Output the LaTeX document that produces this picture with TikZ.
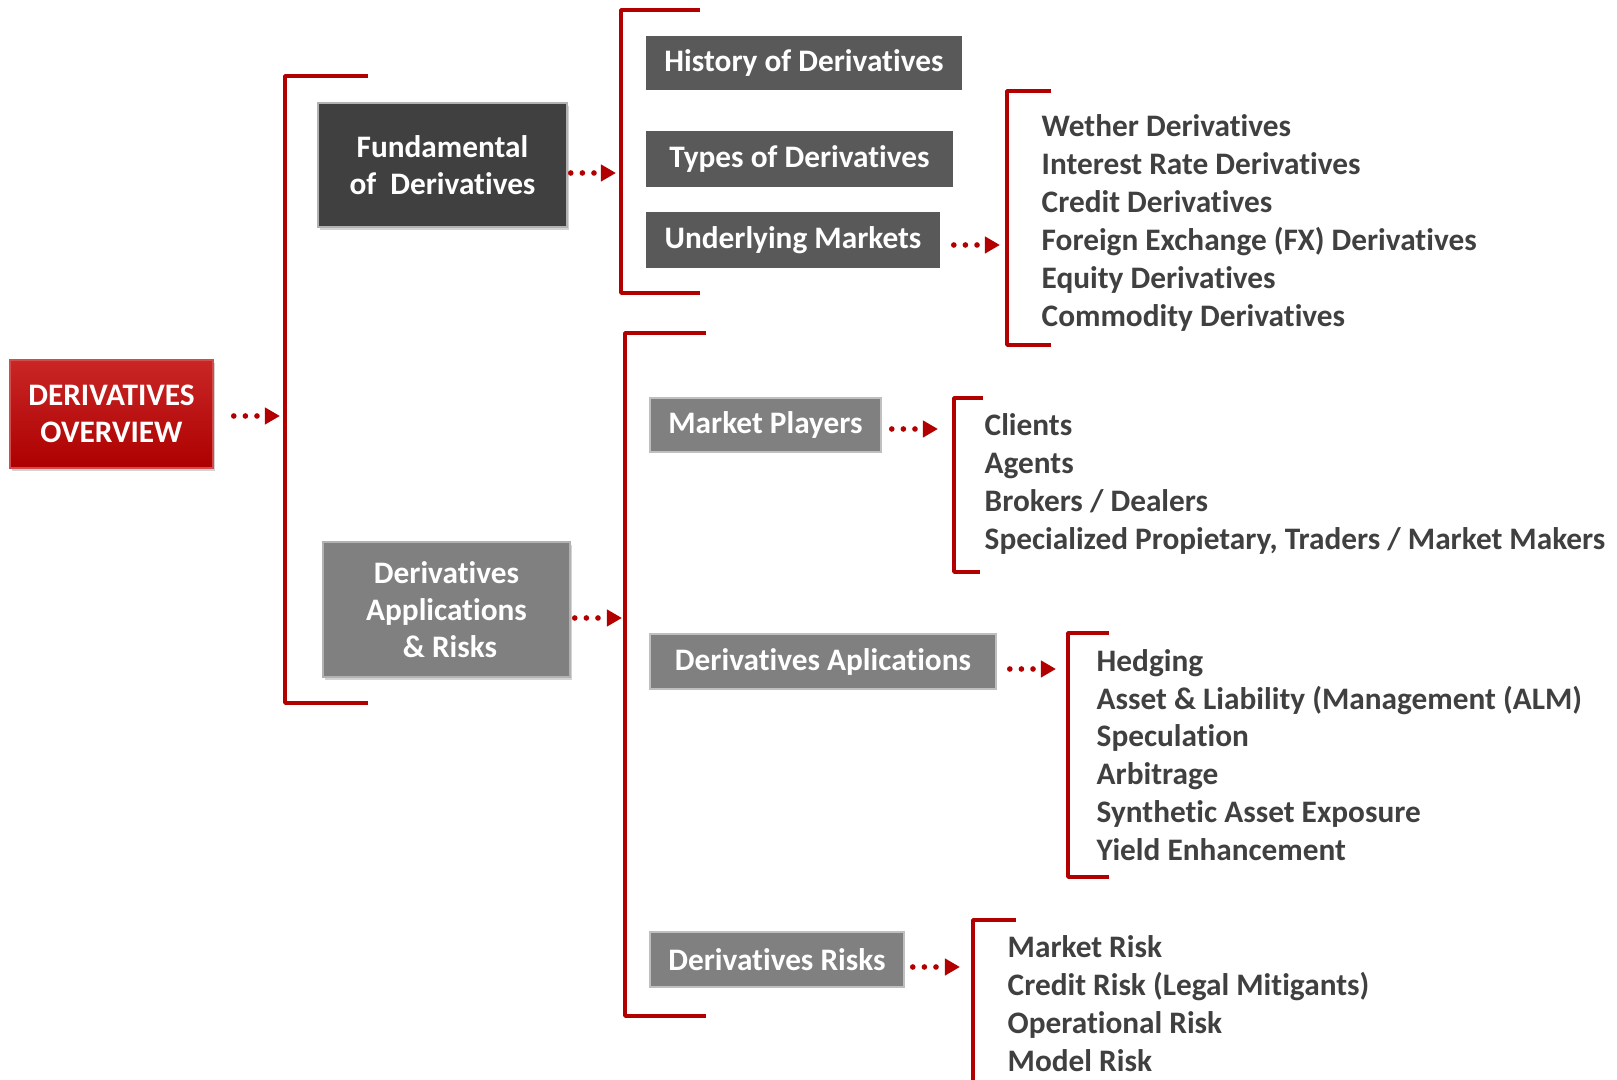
\documentclass[tikz,border=0pt]{standalone}
\usepackage{fontspec}
\setmainfont{Carlito}[Ligatures=NoCommon]
\usetikzlibrary{arrows.meta,shadows}

\definecolor{vermelho}{RGB}{178,0,0}
\definecolor{vermelhoCaixa}{RGB}{192,0,0}
\definecolor{cinzaTexto}{RGB}{64,64,64}
\definecolor{cinzaEscuro}{RGB}{64,64,64}
\definecolor{cinzaMedio}{RGB}{89,89,89}
\definecolor{cinzaClaro}{RGB}{128,128,128}

\begin{document}
\begin{tikzpicture}[
        x=0.01cm, y=-0.01cm,
        caixa/.style={rectangle, fill=#1, text=white, inner sep=0pt, align=center},
        relevo/.style={draw=white!70!black, line width=0.4pt,
            drop shadow={shadow xshift=0.6pt, shadow yshift=-0.9pt, opacity=0.35}},
        colchete/.style={draw=vermelho, line width=1pt, line join=round},
        seta/.style={vermelho, line width=1.6pt, line cap=round,
            dash pattern=on 0pt off 3.3pt,
            -{Triangle[length=4.3pt, width=4.6pt]}},
        lista/.style={anchor=west, inner sep=0pt, align=left, text=cinzaTexto,
            font=\fontsize{8.9}{10.75}\selectfont\bfseries},
        every node/.style={font=\fontsize{8.9}{10.5}\selectfont\bfseries}
    ]

        \useasboundingbox (0,0) rectangle (1617,1080);

        % ==================================================
        % CAIXAS
        % ==================================================

        \node[caixa=vermelhoCaixa, relevo, top color=vermelhoCaixa!85!white,
              bottom color=vermelhoCaixa!90!black, draw=vermelhoCaixa!70!white,
              minimum width=2.03cm, minimum height=1.08cm]
              (ov) at (111.5,414) {DERIVATIVES\\OVERVIEW};

        \node[caixa=cinzaEscuro, relevo, minimum width=2.49cm, minimum height=1.24cm]
              (fund) at (442.5,165) {Fundamental\\of\ \ Derivatives};
        \node[caixa=cinzaClaro, relevo, minimum width=2.47cm, minimum height=1.35cm]
              (apps) at (446.5,609.5) {Derivatives\\Applications\\\ \& Risks};

        % Primeiro bloco
        \node[caixa=cinzaMedio, minimum width=3.16cm, minimum height=0.54cm]
              (hist) at (804,63) {History of Derivatives};
        \node[caixa=cinzaMedio, minimum width=3.07cm, minimum height=0.56cm]
              (tipos) at (799.5,159) {Types of Derivatives};
        \node[caixa=cinzaMedio, minimum width=2.94cm, minimum height=0.56cm]
              (merc) at (793,240) {Underlying Markets};

        % Segundo bloco
        \node[caixa=cinzaClaro, draw=white!75!black, minimum width=2.31cm, minimum height=0.54cm]
              (mp) at (765.5,425) {Market Players};
        \node[caixa=cinzaClaro, draw=white!75!black, minimum width=3.46cm, minimum height=0.55cm]
              (apl) at (823,661.5) {Derivatives Aplications};
        \node[caixa=cinzaClaro, draw=white!75!black, minimum width=2.54cm, minimum height=0.55cm]
              (risco) at (777,959.5) {Derivatives Risks};

        % ==================================================
        % COLCHETES
        % ==================================================

        \draw[colchete] (368,76) -- (285,76) -- (285,703) -- (368,703);
        \draw[colchete] (700,10) -- (621,10) -- (621,293) -- (700,293);
        \draw[colchete] (706,333) -- (625,333) -- (625,1016) -- (706,1016);
        \draw[colchete] (1051,91) -- (1007,91) -- (1007,345) -- (1051,345);
        \draw[colchete] (983,398) -- (954,398) -- (954,572) -- (980,572);
        \draw[colchete] (1109,633) -- (1068,633) -- (1068,877) -- (1109,877);
        \draw[colchete] (1016,920) -- (973,920) -- (973,1080);

        \coordinate (c0) at (285,416);
        \coordinate (c1) at (621,173);
        \coordinate (c2) at (625,618);
        \coordinate (c3) at (1007,245);
        \coordinate (c4) at (954,429);
        \coordinate (c5) at (1068,669);
        \coordinate (c6) at (973,967);

        % ==================================================
        % LISTAS
        % ==================================================

        \node[lista] (l3) at (1041,223) {Wether Derivatives\\Interest Rate Derivatives\\Credit Derivatives\\Foreign Exchange (FX) Derivatives\\Equity Derivatives\\Commodity Derivatives};
        \node[lista] (l4) at (984,484) {Clients\\Agents\\Brokers / Dealers\\Specialized Propietary, Traders / Market Makers};
        \node[lista] (l5) at (1096,755) {Hedging\\Asset \& Liability (Management (ALM)\\Speculation\\Arbitrage\\Synthetic Asset Exposure\\Yield Enhancement};
        \node[lista] (l6) at (1007,1003.5) {Market Risk\\Credit Risk (Legal Mitigants)\\Operational Risk\\Model Risk};

        % Setas
        \draw[seta, shorten <=0.2cm, shorten >=0.05cm] (ov.east |- c0) -- (c0);
        \draw[seta, shorten <=0.03cm, shorten >=0.05cm] (fund.east |- c1) -- (c1);
        \draw[seta, shorten <=0.04cm, shorten >=0.03cm] (apps.east |- c2) -- (c2);
        \draw[seta, shorten <=0.13cm, shorten >=0.07cm] (merc.east |- c3) -- (c3);
        \draw[seta, shorten <=0.1cm, shorten >=0.16cm] (mp.east |- c4) -- (c4);
        \draw[seta, shorten <=0.13cm, shorten >=0.12cm] (apl.east |- c5) -- (c5);
        \draw[seta, shorten <=0.08cm, shorten >=0.13cm] (risco.east |- c6) -- (c6);
    \end{tikzpicture}
\end{document}
